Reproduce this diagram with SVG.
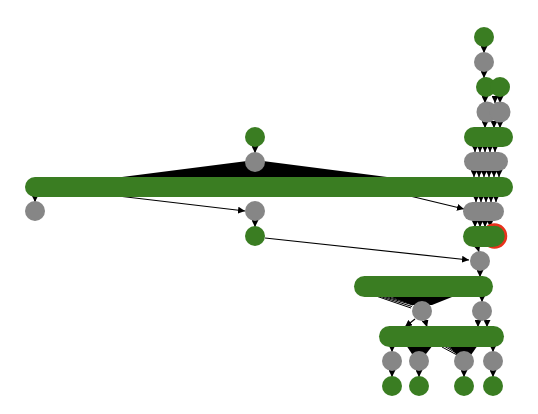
<svg xmlns="http://www.w3.org/2000/svg" width="538" height="414" viewBox="0 0 538 414">
<style>
.g{fill:#3a7d22}
.n{fill:#868686}
.e{stroke:#000;stroke-width:1.2;fill:none;marker-end:url(#a)}
.f{fill:#000;stroke:none}
.t{stroke:#000;stroke-width:1}
</style>
<defs>
<marker id="a" markerUnits="userSpaceOnUse" markerWidth="7" markerHeight="7" refX="7" refY="3.5" orient="auto">
<path d="M0,0 L7,3.5 L0,7 z" fill="#000"/>
</marker>
</defs>
<g id="connectors">
<path class="f" d="M122,177 L255,160 L387,177 z"/>
<line class="e" x1="35" y1="196" x2="35" y2="202"/>
<line class="e" x1="118" y1="196" x2="245" y2="211"/>
<line class="e" x1="410" y1="196" x2="464" y2="209"/>
<line class="e" x1="265" y1="238" x2="469" y2="260"/>
<line class="e" x1="255" y1="146" x2="255" y2="153"/>
<line class="e" x1="255" y1="220" x2="255" y2="227"/>
<line class="e" x1="484" y1="46" x2="484" y2="53"/>
<line class="e" x1="484" y1="71" x2="484" y2="78"/>
<line class="e" x1="485" y1="96" x2="485" y2="103"/>
<line class="e" x1="495" y1="96" x2="495" y2="103"/>
<line class="e" x1="500" y1="96" x2="500" y2="103"/>
<line class="e" x1="485" y1="121" x2="485" y2="128"/>
<line class="e" x1="494" y1="121" x2="494" y2="128"/>
<line class="e" x1="500" y1="121" x2="500" y2="128"/>
<line class="e" x1="475" y1="145" x2="475" y2="152"/>
<line class="e" x1="480" y1="145" x2="480" y2="152"/>
<line class="e" x1="485" y1="145" x2="485" y2="152"/>
<line class="e" x1="490" y1="145" x2="490" y2="152"/>
<line class="e" x1="495" y1="145" x2="495" y2="152"/>
<line class="e" x1="474" y1="170" x2="474" y2="177"/>
<line class="e" x1="479" y1="170" x2="479" y2="177"/>
<line class="e" x1="484" y1="170" x2="484" y2="177"/>
<line class="e" x1="489" y1="170" x2="489" y2="177"/>
<line class="e" x1="494" y1="170" x2="494" y2="177"/>
<line class="e" x1="499" y1="170" x2="499" y2="177"/>
<line class="e" x1="476" y1="195" x2="476" y2="202"/>
<line class="e" x1="481" y1="195" x2="481" y2="202"/>
<line class="e" x1="486" y1="195" x2="486" y2="202"/>
<line class="e" x1="491" y1="195" x2="491" y2="202"/>
<line class="e" x1="496" y1="195" x2="496" y2="202"/>
<line class="e" x1="475" y1="220" x2="475" y2="227"/>
<line class="e" x1="480" y1="220" x2="480" y2="227"/>
<line class="e" x1="485" y1="220" x2="485" y2="227"/>
<line class="e" x1="490" y1="220" x2="490" y2="227"/>
<line class="e" x1="477" y1="245" x2="479" y2="252"/>
<line class="e" x1="480" y1="270" x2="480" y2="277"/>
<path class="f" d="M386,295 L457,295 L432,305 L412,305 z"/>
<line class="t" x1="376" y1="296" x2="411" y2="308"/>
<line class="t" x1="379" y1="296" x2="412" y2="306.5"/>
<line class="t" x1="382" y1="296" x2="413" y2="305"/>
<line class="t" x1="385" y1="296" x2="414" y2="304"/>
<line class="e" x1="482" y1="295" x2="482" y2="302"/>
<line class="e" x1="415" y1="319" x2="405" y2="327"/>
<line class="e" x1="425" y1="320" x2="427" y2="327"/>
<line class="e" x1="478" y1="320" x2="478" y2="327"/>
<line class="e" x1="487" y1="320" x2="487" y2="327"/>
<line class="e" x1="392" y1="345" x2="392" y2="352"/>
<path class="f" d="M406,345 L433,345 L426,354 L412,354 z"/>
<path class="f" d="M448,345 L478,345 L471,355 L457,355 z"/>
<line class="t" x1="442" y1="347" x2="457" y2="355"/>
<line class="t" x1="444" y1="346" x2="458" y2="354"/>
<line class="t" x1="446" y1="345.5" x2="458" y2="353"/>
<line class="e" x1="493" y1="345" x2="493" y2="352"/>
<line class="e" x1="392" y1="370" x2="392" y2="377"/>
<line class="e" x1="419" y1="370" x2="419" y2="377"/>
<line class="e" x1="464" y1="370" x2="464" y2="377"/>
<line class="e" x1="493" y1="370" x2="493" y2="377"/>
</g>
<g id="n1"><circle class="g" cx="484" cy="37" r="10"/></g>
<g id="n2"><circle class="n" cx="484" cy="62" r="10"/></g>
<g id="n3"><circle class="g" cx="486" cy="87" r="10"/><circle class="g" cx="500" cy="87" r="10"/></g>
<g id="n4"><circle class="n" cx="487" cy="112" r="10.5"/><circle class="n" cx="500" cy="112" r="10.5"/></g>
<g id="n5"><rect class="g" x="464" y="127" width="49" height="20" rx="10"/></g>
<g id="n6"><rect class="n" x="464" y="152" width="44" height="19" rx="9.5"/></g>
<g id="n7"><rect class="g" x="25" y="177" width="488" height="20" rx="10"/></g>
<g id="n8"><circle class="g" cx="255" cy="137" r="10"/></g>
<g id="n9"><circle class="n" cx="255" cy="162" r="10"/></g>
<g id="n10"><circle class="n" cx="35" cy="211" r="10"/></g>
<g id="n11"><circle class="n" cx="255" cy="211" r="10"/></g>
<g id="n12"><circle class="g" cx="255" cy="236" r="10"/></g>
<g id="n13"><rect class="n" x="463" y="202" width="41" height="19" rx="9.5"/></g>
<g id="n14"><circle class="g" cx="494.5" cy="236" r="11.5" stroke="#e8321c" stroke-width="2.5"/></g>
<g id="n15"><rect class="g" x="463" y="226" width="40" height="21" rx="10.5"/></g>
<g id="n16"><circle class="n" cx="480" cy="261" r="10"/></g>
<g id="n17"><rect class="g" x="354" y="276" width="139" height="21" rx="10.5"/></g>
<g id="n18"><circle class="n" cx="422" cy="311" r="10"/></g>
<g id="n19"><circle class="n" cx="482" cy="311" r="10"/></g>
<g id="n20"><rect class="g" x="379" y="326" width="125" height="21" rx="10.5"/></g>
<g id="n21"><circle class="n" cx="392" cy="361" r="10"/></g>
<g id="n22"><circle class="n" cx="419" cy="361" r="10"/></g>
<g id="n23"><circle class="n" cx="464" cy="361" r="10"/></g>
<g id="n24"><circle class="n" cx="493" cy="361" r="10"/></g>
<g id="n25"><circle class="g" cx="392" cy="386" r="10"/></g>
<g id="n26"><circle class="g" cx="419" cy="386" r="10"/></g>
<g id="n27"><circle class="g" cx="464" cy="386" r="10"/></g>
<g id="n28"><circle class="g" cx="493" cy="386" r="10"/></g>
</svg>
